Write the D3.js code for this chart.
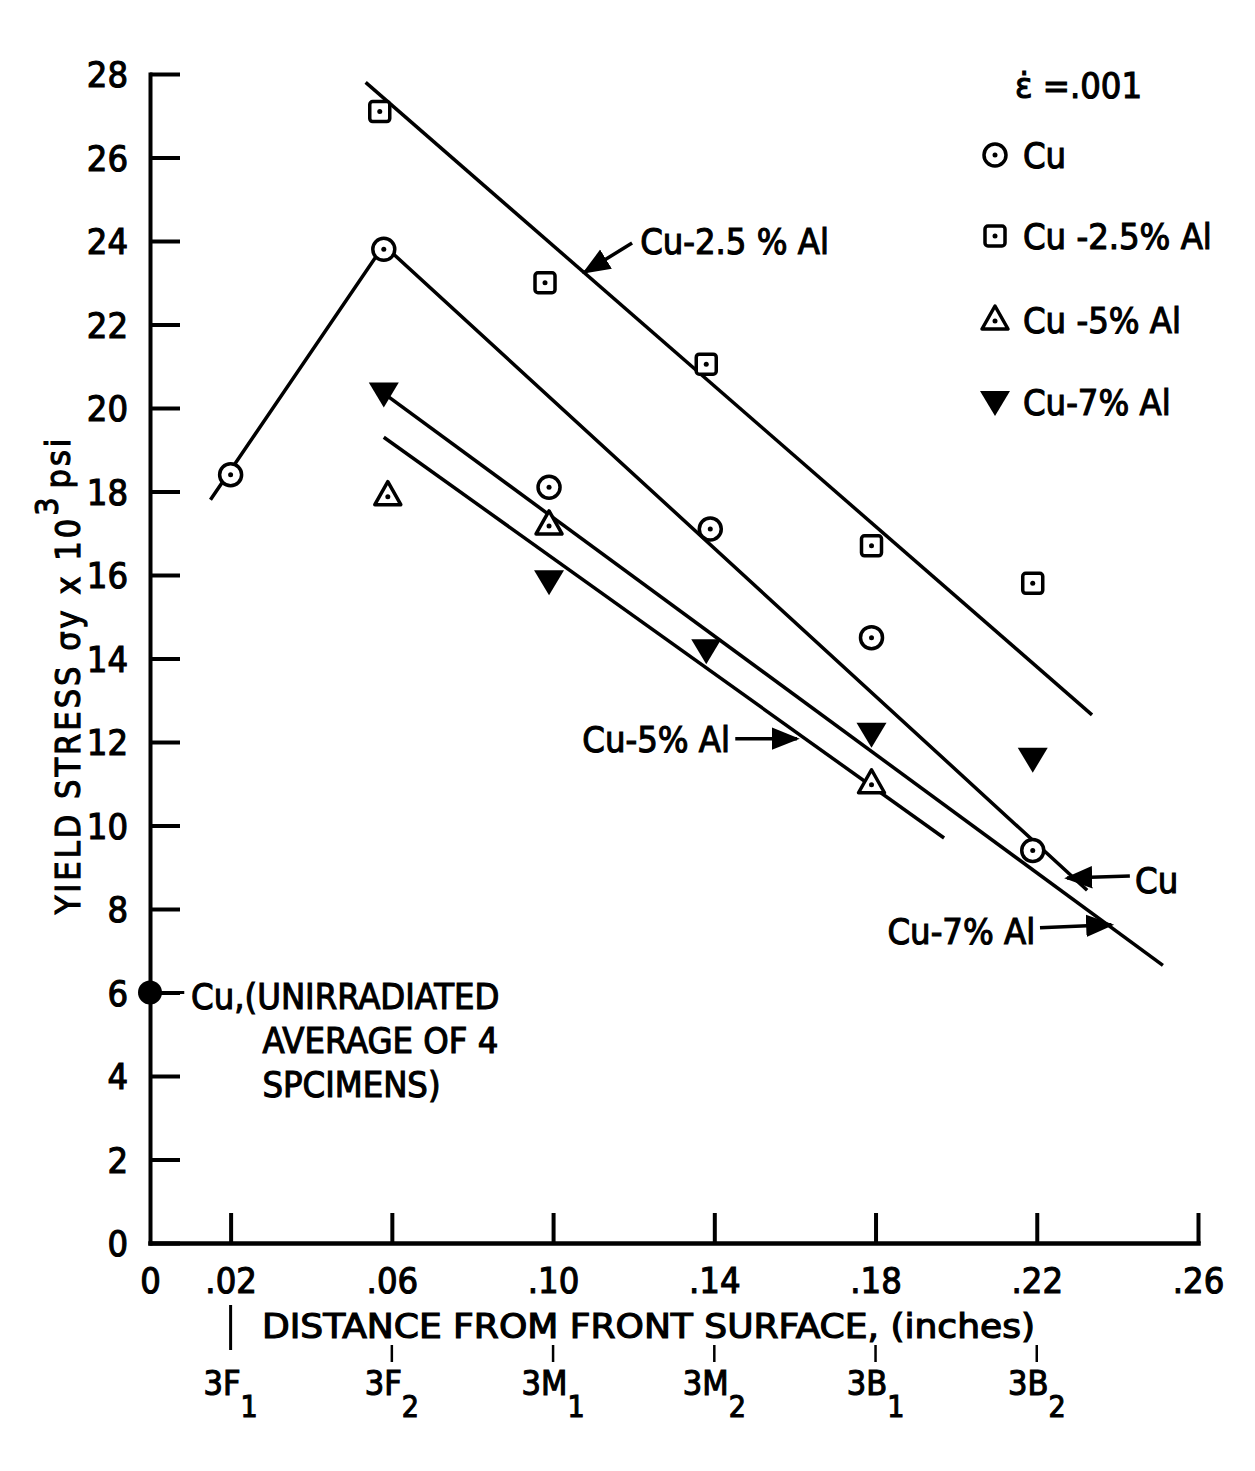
<!DOCTYPE html>
<html>
<head>
<meta charset="utf-8">
<script src="https://cdn.jsdelivr.net/npm/d3@7"></script>
<style>
  body { margin: 0; background: #fff; }
  text { font-family: "DejaVu Sans Condensed", "Liberation Sans Narrow", sans-serif; fill: #000; stroke: #000; stroke-width: 1.1px; }
</style>
</head>
<body>
<div id="chart"></div>
<script>
(function () {

// axis ticks
const xTicks = [0, .02, .06, .10, .14, .18, .22, .26];
const yTicks = [0, 2, 4, 6, 8, 10, 12, 14, 16, 18, 20, 22, 24, 26, 28];

// specimen positions under the x axis
const specimens = [
  {x: .02, main: "3F", sub: "1"},
  {x: .06, main: "3F", sub: "2"},
  {x: .10, main: "3M", sub: "1"},
  {x: .14, main: "3M", sub: "2"},
  {x: .18, main: "3B", sub: "1"},
  {x: .22, main: "3B", sub: "2"}
];

const cuX   = [.020, .058, .099, .139, .179, .219];
const cuY   = [18.4, 23.8, 18.1, 17.1, 14.5, 9.4];
const cu25X = [.057, .098, .138, .179, .219];
const cu25Y = [27.1, 23.0, 21.05, 16.7, 15.8];
const cu5X  = [.059, .099, .179];
const cu5Y  = [17.9, 17.2, 11.0];
const cu7X  = [.058, .099, .138, .179, .219];
const cu7Y  = [20.35, 15.85, 14.2, 12.2, 11.6];

// unirradiated copper
const unirrX = [0];
const unirrY = [6];

// hand drawn fit lines
const cuFit   = [[.015, 17.8], [.058, 23.9], [.2325, 8.45]];
const cu25Fit = [[.0535, 27.8], [.2337, 12.65]];
const cu5Fit  = [[.058, 19.3], [.197, 9.7]];
const cu7Fit  = [[.0559, 20.5], [.2513, 6.65]];

const W = 1255, H = 1471;

const x = d3.scaleLinear().domain([0, .26]).range([150, 1198]);
const y = d3.scaleLinear().domain([0, 28]).range([1243, 74]);

const svg = d3.select("#chart").append("svg")
    .attr("width", W)
    .attr("height", H);

svg.append("rect").attr("width", W).attr("height", H).attr("fill", "#fff");

// arrow head
svg.append("defs").append("marker")
    .attr("id", "arr")
    .attr("viewBox", "0 0 10 10")
    .attr("refX", 9).attr("refY", 5)
    .attr("markerWidth", 8).attr("markerHeight", 8)
    .attr("markerUnits", "strokeWidth")
    .attr("orient", "auto")
  .append("path")
    .attr("d", "M0,1 L10,5 L0,9 Z")
    .attr("fill", "#000");

//y axis, ticks pointing into the plot
const yAxis = svg.append("g")
    .attr("transform", "translate(" + x(0) + ",0)")
    .call(d3.axisLeft(y).tickValues(yTicks).tickSizeInner(-30).tickSizeOuter(0).tickPadding(22).tickFormat(d3.format("d")));
yAxis.select(".domain").attr("stroke-width", 4);
yAxis.selectAll(".tick line").attr("stroke-width", 4);
yAxis.selectAll(".tick text").attr("font-size", 36).attr("dy", "0.36em");

//x axis
const xAxis = svg.append("g")
    .attr("transform", "translate(0," + y(0) + ")")
    .call(d3.axisBottom(x).tickValues(xTicks).tickSizeInner(-30).tickSizeOuter(0).tickPadding(18)
      .tickFormat(d => d === 0 ? "0" : d3.format(".2f")(d).replace(/^0/, "")));
xAxis.select(".domain").attr("stroke-width", 4.5);
xAxis.selectAll(".tick line").attr("stroke-width", 4).attr("opacity", d => d === 0 ? 0 : 1);
xAxis.selectAll(".tick text").attr("font-size", 36).attr("dy", "0.9em");
svg.selectAll(".domain").attr("stroke-linecap", "square");

// axis titles
svg.append("text")
    .attr("x", 262).attr("y", 1338)
    .attr("font-size", 34)
    .attr("textLength", 773).attr("lengthAdjust", "spacingAndGlyphs")
    .text("DISTANCE FROM FRONT SURFACE, (inches)");

svg.append("line")
    .attr("x1", x(.02)).attr("x2", x(.02))
    .attr("y1", 1305).attr("y2", 1350)
    .attr("stroke", "#000").attr("stroke-width", 3);

const ylab = svg.append("text")
    .attr("transform", "translate(80,675) rotate(-90)")
    .attr("text-anchor", "middle")
    .attr("letter-spacing", 3)
    .attr("font-size", 34);
ylab.append("tspan").text("YIELD STRESS \u03c3y x 10");
ylab.append("tspan").attr("dy", -22).attr("font-size", 32).text("3");
ylab.append("tspan").attr("dy", 12).attr("dx", 6).text("psi");

// specimen labels
const spec = svg.selectAll(".spec")
  .data(specimens)
  .join("g")
    .attr("class", "spec")
    .attr("transform", d => "translate(" + x(d.x) + ",0)");
spec.filter((d, i) => i > 0).append("line")
    .attr("y1", 1345).attr("y2", 1362)
    .attr("stroke", "#000").attr("stroke-width", 2.5);
const st = spec.append("text")
    .attr("y", 1395)
    .attr("text-anchor", "middle")
    .attr("font-size", 34);
st.append("tspan").text(d => d.main);
st.append("tspan").attr("dy", 22).attr("font-size", 30).text(d => d.sub);

// fit lines
const line = d3.line().x(d => x(d[0])).y(d => y(d[1]));
svg.selectAll(".fit")
  .data([cuFit, cu25Fit, cu5Fit, cu7Fit])
  .join("path")
    .attr("class", "fit")
    .attr("d", line)
    .attr("fill", "none")
    .attr("stroke", "#000")
    .attr("stroke-width", 3.5);

// marker shapes
function circleMark(g) {
  g.append("circle").attr("r", 11).attr("fill", "#fff").attr("stroke", "#000").attr("stroke-width", 3.5);
  g.append("circle").attr("r", 2.5).attr("fill", "#000");
}
function squareMark(g) {
  g.append("rect").attr("x", -10).attr("y", -10).attr("width", 20).attr("height", 20).attr("rx", 3)
    .attr("fill", "#fff").attr("stroke", "#000").attr("stroke-width", 3.5);
  g.append("circle").attr("r", 2.5).attr("fill", "#000");
}
function triMark(g) {
  g.append("path").attr("d", "M0,-14 L13,9 L-13,9 Z")
    .attr("fill", "#fff").attr("stroke", "#000").attr("stroke-width", 3.5).attr("stroke-linejoin", "round");
  g.append("circle").attr("cy", 1).attr("r", 2.5).attr("fill", "#000");
}
function downMark(g) {
  g.append("path").attr("d", "M-15,-11 L15,-11 L0,14 Z").attr("fill", "#000");
}
function dotMark(g) {
  g.append("circle").attr("r", 12).attr("fill", "#000");
}

function drawSeries(xs, ys, mark) {
  svg.selectAll(null)
    .data(xs.map((v, i) => [v, ys[i]]))
    .join("g")
      .attr("transform", d => "translate(" + x(d[0]) + "," + y(d[1]) + ")")
      .each(function () { mark(d3.select(this)); });
}
drawSeries(cuX, cuY, circleMark);
drawSeries(cu25X, cu25Y, squareMark);
drawSeries(cu5X, cu5Y, triMark);
drawSeries(cu7X, cu7Y, downMark);
drawSeries(unirrX, unirrY, dotMark);

// annotations with arrows
function arrow(x1, y1, x2, y2) {
  svg.append("line")
    .attr("x1", x(x1)).attr("y1", y(y1))
    .attr("x2", x(x2)).attr("y2", y(y2))
    .attr("stroke", "#000").attr("stroke-width", 3.5)
    .attr("marker-end", "url(#arr)");
}
function label(t, xv, yv, anchor) {
  svg.append("text")
    .attr("x", x(xv)).attr("y", y(yv))
    .attr("text-anchor", anchor || "start")
    .attr("font-size", 36)
    .text(t);
}

label("Cu-2.5 % Al", .1216, 23.7);
arrow(.1196, 23.95, .1078, 23.25);

label("Cu-5% Al", .1439, 11.75, "end");
arrow(.1452, 12.08, .1605, 12.08);

label("Cu", .2444, 8.38);
arrow(.2431, 8.79, .2275, 8.74);

label("Cu-7% Al", .2196, 7.15, "end");
arrow(.2208, 7.55, .2385, 7.62);

svg.append("line")
    .attr("x1", x(.003)).attr("x2", x(.0085))
    .attr("y1", y(6)).attr("y2", y(6))
    .attr("stroke", "#000").attr("stroke-width", 3);
label("Cu,(UNIRRADIATED", .0102, 5.6);
label("AVERAGE OF 4", .0279, 4.55);
label("SPCIMENS)", .0279, 3.5);

// legend
const leg = svg.append("g").attr("transform", "translate(995,0)");
leg.append("text").attr("x", 20).attr("y", 98).attr("font-size", 36).text("\u03b5\u0307 =.001");
const legItems = [
  {label: "Cu", mark: circleMark, y: 155},
  {label: "Cu -2.5% Al", mark: squareMark, y: 236},
  {label: "Cu -5% Al", mark: triMark, y: 320},
  {label: "Cu-7% Al", mark: downMark, y: 402}
];
legItems.forEach(d => {
  const g = leg.append("g").attr("transform", "translate(0," + d.y + ")");
  d.mark(g);
  g.append("text").attr("x", 28).attr("y", 13).attr("font-size", 36).text(d.label);
});

})()
</script>
</body>
</html>
